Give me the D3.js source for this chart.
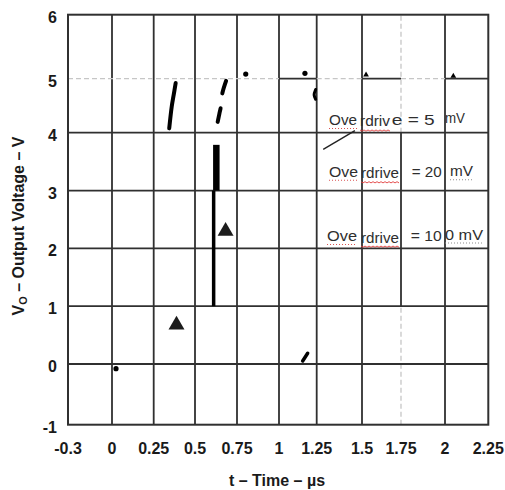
<!DOCTYPE html>
<html>
<head>
<meta charset="utf-8">
<script src="https://cdn.jsdelivr.net/npm/d3@7"></script>
<style>
  body { margin: 0; background: #fff; }
  text { font-family: Arial, "Liberation Sans", sans-serif; }
</style>
</head>
<body>
<div id="chart"></div>
<script>
// Constants for the chart
const WIDTH = 505;
const HEIGHT = 490;

// axis ticks and their labels
const xTicks = [-0.3, 0, 0.25, 0.5, 0.75, 1, 1.25, 1.5, 1.75, 2, 2.25];
const xTickLabels = ["-0.3", "0", "0.25", "0.5", "0.75", "1", "1.25", "1.5", "1.75", "2", "2.25"];
const yTicks = [-1, 0, 1, 2, 3, 4, 5, 6];
const yTickLabels = ["-1", "0", "1", "2", "3", "4", "5", "6"];

// trace fragments, [t (µs), Vo (V)]
const trace5mV = [[0.344, 4.08], [0.359, 4.48], [0.371, 4.70], [0.383, 4.92]];
const trace20mV = [[0.635, 4.20], [0.645, 4.35], [0.655, 4.50], [0.662, 4.72], [0.685, 4.96]];
const trace100mVLow = [[0.611, 1], [0.611, 3]];
const trace100mVHigh = [[0.627, 3], [0.627, 3.79]];
const fragmentLow = [[1.157, 0.052], [1.19, 0.185]];
const fragmentArc = [[1.243, 4.62], [1.233, 4.70], [1.243, 4.80]];
const dots = [[0.024, -0.077], [0.802, 5.073], [1.172, 5.084]];
const bigTriangles = [[0.388, 0.676], [0.682, 2.298]];
const smallTriangles = [[1.526, 5.06], [2.048, 5.04]];
const leaderLine = [[1.286, 3.713], [1.461, 4.037]];

// "Overdrive = ..." labels, broken up as in the scan
const annotationText = [
  ["Ove", "rdriv", "e = 5", "mV"],
  ["Ove", "rdrive", "= 20", "mV"],
  ["Ove", "rdrive", "= 10", "0 mV"]
];
const annotationAnchor = [[1.318, 4.143], [1.318, 3.239], [1.307, 2.126]];

const svg = d3.select("#chart").append("svg")
  .attr("width", WIDTH)
  .attr("height", HEIGHT);

// the scanned axes are not perfectly even, so map each tick
const x = d3.scaleLinear()
  .domain(xTicks)
  .range([68, 112, 153.7, 195, 237, 279, 316.7, 362, 401, 445, 488.3]);
const y = d3.scaleLinear()
  .domain([-1, 0, 4, 5, 6])
  .range([424.7, 364, 132.7, 78.7, 14.7]);

const GRID = "#303030";
const DASH = "#c6c6c6";

const grid = svg.append("g");

function vSeg(t, v0, v1, dashed) {
  grid.append("line")
    .attr("x1", x(t)).attr("x2", x(t))
    .attr("y1", y(v0)).attr("y2", y(v1))
    .attr("stroke", dashed ? DASH : GRID)
    .attr("stroke-width", dashed ? 1.3 : 1.8)
    .attr("stroke-dasharray", dashed ? "5,3" : null);
}
function hSeg(v, t0, t1, dashed) {
  grid.append("line")
    .attr("x1", x(t0)).attr("x2", x(t1))
    .attr("y1", y(v)).attr("y2", y(v))
    .attr("stroke", dashed ? DASH : GRID)
    .attr("stroke-width", dashed ? 1.3 : 1.8)
    .attr("stroke-dasharray", dashed ? "5,3" : null);
}

// vertical grid
xTicks.slice(1, -1).forEach(t => {
  if (t === 1.75) {
    vSeg(t, 4, 6, true);
    vSeg(t, 1, 4, false);
    vSeg(t, -1, 1, true);
  } else {
    vSeg(t, -1, 6, false);
  }
});

// horizontal grid
yTicks.slice(1, -1).forEach(v => {
  if (v === 5) {
    hSeg(v, -0.3, 1, true);
    hSeg(v, 1, 1.25, false);
    hSeg(v, 1.25, 1.5, true);
    hSeg(v, 1.5, 1.75, false);
    hSeg(v, 1.75, 2, true);
    hSeg(v, 2, 2.25, false);
  } else {
    hSeg(v, -0.3, 2.25, false);
  }
});

// frame
svg.append("rect")
  .attr("x", x(-0.3)).attr("y", y(6))
  .attr("width", x(2.25) - x(-0.3))
  .attr("height", y(-1) - y(6))
  .attr("fill", "none")
  .attr("stroke", GRID)
  .attr("stroke-width", 2);

// tick labels
svg.append("g").selectAll("text")
  .data(xTicks)
  .join("text")
  .attr("x", d => x(d))
  .attr("y", 454)
  .attr("text-anchor", "middle")
  .attr("font-size", 16)
  .attr("font-weight", "bold")
  .attr("fill", "#1a1a1a")
  .text((d, i) => xTickLabels[i]);

svg.append("g").selectAll("text")
  .data(yTicks)
  .join("text")
  .attr("x", 57)
  .attr("y", d => y(d) + 8)
  .attr("text-anchor", "end")
  .attr("font-size", 16)
  .attr("font-weight", "bold")
  .attr("fill", "#1a1a1a")
  .text((d, i) => yTickLabels[i]);

// axis titles
svg.append("text")
  .attr("x", 277).attr("y", 486)
  .attr("text-anchor", "middle")
  .attr("font-size", 16)
  .attr("font-weight", "bold")
  .attr("fill", "#1a1a1a")
  .text("t \u2013 Time \u2013 \u00b5s");

const yTitle = svg.append("text")
  .attr("transform", "translate(24,226) rotate(-90)")
  .attr("text-anchor", "middle")
  .attr("font-size", 16)
  .attr("font-weight", "bold")
  .attr("fill", "#1a1a1a");
yTitle.append("tspan").text("V");
yTitle.append("tspan").attr("font-size", 11).attr("dy", 3).text("O");
yTitle.append("tspan").attr("dy", -3).text(" \u2013 Output Voltage \u2013 V");

// traces
const line = d3.line()
  .x(d => x(d[0]))
  .y(d => y(d[1]))
  .curve(d3.curveCatmullRom);

const marks = svg.append("g");

marks.append("path").datum(trace5mV)
  .attr("d", line).attr("fill", "none")
  .attr("stroke", "#000").attr("stroke-width", 4).attr("stroke-linecap", "round");

marks.append("path").datum(trace20mV)
  .attr("d", line).attr("fill", "none")
  .attr("stroke", "#000").attr("stroke-width", 4).attr("stroke-linecap", "round")
  .attr("stroke-dasharray", "14,15,16");

marks.append("path").datum(trace100mVLow)
  .attr("d", line).attr("fill", "none")
  .attr("stroke", "#000").attr("stroke-width", 3.5);

marks.append("path").datum(trace100mVHigh)
  .attr("d", line).attr("fill", "none")
  .attr("stroke", "#000").attr("stroke-width", 6.5);

marks.append("path").datum(fragmentLow)
  .attr("d", line).attr("fill", "none")
  .attr("stroke", "#000").attr("stroke-width", 3.5).attr("stroke-linecap", "round");

marks.append("path").datum(fragmentArc)
  .attr("d", line).attr("fill", "none")
  .attr("stroke", "#000").attr("stroke-width", 3).attr("stroke-linecap", "round");

marks.selectAll(".dot")
  .data(dots)
  .join("circle")
  .attr("class", "dot")
  .attr("cx", d => x(d[0]))
  .attr("cy", d => y(d[1]))
  .attr("r", 2.6)
  .attr("fill", "#000");

marks.selectAll(".tri")
  .data(bigTriangles)
  .join("path")
  .attr("class", "tri")
  .attr("transform", d => `translate(${x(d[0])},${y(d[1])})`)
  .attr("d", d3.symbol(d3.symbolTriangle, 110))
  .attr("fill", "#1c1c1c");

marks.selectAll(".tri-small")
  .data(smallTriangles)
  .join("path")
  .attr("class", "tri-small")
  .attr("transform", d => `translate(${x(d[0])},${y(d[1])})`)
  .attr("d", d3.symbol(d3.symbolTriangle, 14))
  .attr("fill", "#000");

// leader line
marks.append("path").datum(leaderLine)
  .attr("d", d3.line().x(d => x(d[0])).y(d => y(d[1])))
  .attr("stroke", "#222").attr("stroke-width", 1.4);

// annotation layout: [dx, dy, width] of each piece, and underline kind
const pieceLayout = [
  [[0, 0, 28], [31, 1.5, 30], [62.7, 0, 43], [116, -2, 20]],
  [[0, 0, 29], [32, 1.5, 38], [82.7, 0, 30], [121, -0.5, 23]],
  [[0, 0, 30], [34, 1.5, 38], [83.7, 0, 31], [118, -1.5, 38]]
];
const underline = [
  ["dot-red", "wave", null, null],
  ["dot-red", "wave", null, "dot-gray"],
  ["dot-red", "wave", null, "dot-gray"]
];

const ann = svg.append("g");
annotationText.forEach((pieces, a) => {
  const ax = x(annotationAnchor[a][0]);
  const ay = y(annotationAnchor[a][1]);
  pieces.forEach((txt, p) => {
    const [dx, dy, w] = pieceLayout[a][p];
    ann.append("text")
      .attr("x", ax + dx)
      .attr("y", ay + dy)
      .attr("font-size", 14)
      .attr("fill", "#2e2e2e")
      .attr("textLength", w)
      .attr("lengthAdjust", "spacingAndGlyphs")
      .text(txt);
    const kind = underline[a][p];
    const uy = ay + dy + 3.5;
    if (kind === "wave") {
      const pts = d3.range(0, w + 0.1, 2).map((k, i) => [ax + dx + k, uy + (i % 2 ? 1.2 : 0)]);
      ann.append("path")
        .attr("d", d3.line()(pts))
        .attr("fill", "none").attr("stroke", "#e03c3c").attr("stroke-width", 0.9);
    } else if (kind) {
      ann.append("line")
        .attr("x1", ax + dx).attr("x2", ax + dx + w)
        .attr("y1", uy).attr("y2", uy)
        .attr("stroke", kind === "dot-red" ? "#d95050" : "#8a8a8a")
        .attr("stroke-width", 1.1)
        .attr("stroke-dasharray", "1,2");
    }
  });
});
</script>
</body>
</html>
